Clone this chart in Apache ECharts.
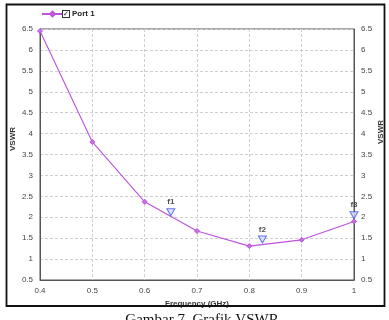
<!DOCTYPE html>
<html><head><meta charset="utf-8">
<script src="https://cdn.jsdelivr.net/npm/echarts@6/dist/echarts.min.js"></script>
<style>html,body{margin:0;padding:0;background:#fff}#c{width:389px;height:320px}</style>
</head><body><div id="c"></div>
<script>
var freqs = [0.4, 0.5, 0.6, 0.7, 0.8, 0.9, 1.0];
var vswr = [6.45, 3.8, 2.37, 1.67, 1.31, 1.46, 1.9];
var markerNames = ['f1', 'f2', 'f3'];
var markerFreqs = [0.65, 0.825, 1.0];
var markerVals = [2.12, 1.47, 2.05];
var seriesName = 'Port 1';
var xTitle = 'Frequency (GHz)';
var yTitle = 'VSWR';
var caption = 'Gambar 7. Grafik VSWR';

var FONT = 'Liberation Sans, Arial, sans-serif';
var chart = echarts.init(document.getElementById('c'), null, {renderer: 'canvas'});
var lineData = freqs.map(function (f, i) { return [f, vswr[i]]; });
var mkData = markerFreqs.map(function (f, i) { return {name: markerNames[i], value: [f, markerVals[i]]}; });
var gridLine = {show: true, lineStyle: {color: '#cfcfcf', type: [3, 2], width: 1}};
var yAxisBase = {
  type: 'value', min: 0.5, max: 6.5, interval: 0.5,
  axisLine: {show: true, lineStyle: {color: '#555', width: 1}},
  axisTick: {show: false},
  axisLabel: {fontSize: 8, color: '#444', fontFamily: FONT, margin: 7},
  splitLine: gridLine
};
chart.setOption({
  animation: false,
  backgroundColor: '#fff',
  grid: {left: 40, right: 35, top: 29, bottom: 40, containLabel: false, show: true, borderColor: '#555', borderWidth: 1},
  title: {text: caption, left: 197, textAlign: 'center', top: 308,
    textStyle: {fontFamily: 'Liberation Serif, Times New Roman, serif', fontSize: 15, fontWeight: 'normal', color: '#111'}},
  legend: {
    left: 36, top: 5, itemWidth: 21, itemHeight: 6, itemGap: 4,
    data: [{name: seriesName}],
    formatter: function (n) { return '{cb|✓}{t|' + n + '}'; },
    textStyle: {
      fontFamily: FONT, fontSize: 8, color: '#222', padding: [0, 0, 0, -5],
      rich: {
        cb: {width: 6, height: 6, borderColor: '#333', borderWidth: 1, fontSize: 7, lineHeight: 7, align: 'center', color: '#111', backgroundColor: '#fff'},
        t: {fontWeight: 'bold', fontSize: 8, padding: [0, 0, 0, 3], fontFamily: FONT, color: '#222'}
      }
    }
  },
  xAxis: {
    type: 'value', min: 0.4, max: 1.0, interval: 0.1,
    name: xTitle, nameLocation: 'middle', nameGap: 20,
    nameTextStyle: {fontSize: 8, fontWeight: 'bold', color: '#333', fontFamily: FONT},
    axisLine: {show: true, onZero: false, lineStyle: {color: '#555'}},
    axisTick: {show: false},
    axisLabel: {fontSize: 8, color: '#444', fontFamily: FONT, margin: 7,
      formatter: function (v) { return String(parseFloat(v.toFixed(1))); }},
    splitLine: gridLine
  },
  yAxis: [
    Object.assign({}, yAxisBase, {position: 'left'}),
    Object.assign({}, yAxisBase, {position: 'right', splitLine: {show: false}})
  ],
  graphic: [
    {type: 'rect', shape: {x: 6.5, y: 4.5, width: 378, height: 301.5}, style: {fill: 'none', stroke: '#111', lineWidth: 1.8}, silent: true, z: 10},
    {type: 'text', x: 13, y: 139, rotation: Math.PI / 2, style: {text: yTitle, font: 'bold 8px ' + FONT, fill: '#333', align: 'center', verticalAlign: 'middle'}},
    {type: 'text', x: 381, y: 132, rotation: Math.PI / 2, style: {text: yTitle, font: 'bold 8px ' + FONT, fill: '#333', align: 'center', verticalAlign: 'middle'}}
  ],
  series: [
    {
      name: seriesName, type: 'line', data: lineData, yAxisIndex: 0,
      symbol: 'diamond', symbolSize: 5, showSymbol: true,
      lineStyle: {color: '#bd52de', width: 1.1},
      itemStyle: {color: '#c670e2', borderColor: '#bd52de', borderWidth: 1},
      z: 3
    },
    {
      name: 'markers', type: 'scatter', data: mkData, yAxisIndex: 0,
      symbol: 'triangle', symbolRotate: 180, symbolSize: [8, 7], clip: false,
      itemStyle: {color: '#d8defc', borderColor: '#3a55e8', borderWidth: 1},
      label: {show: true, position: 'top', distance: 2, formatter: '{b}', fontSize: 8, fontWeight: 'bold', color: '#222', fontFamily: FONT},
      z: 4
    }
  ]
});
</script></body></html>
